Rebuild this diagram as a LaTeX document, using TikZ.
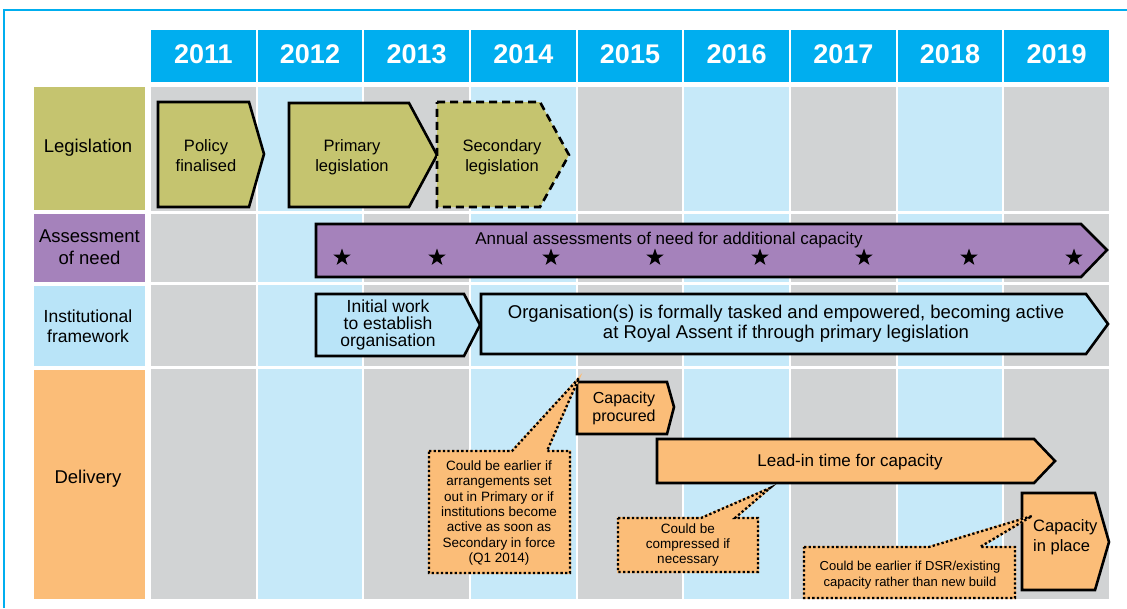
\documentclass[tikz,border=0pt]{standalone}
\usepackage{fontspec}
\setmainfont{Liberation Sans}
\usetikzlibrary{shapes.geometric}
\definecolor{hdr}{HTML}{00AEEF}
\definecolor{cgray}{HTML}{D1D3D4}
\definecolor{cblue}{HTML}{C6E9F9}
\definecolor{olive}{HTML}{C5C46F}
\definecolor{purp}{HTML}{A582BB}
\definecolor{inst}{HTML}{B9E4F8}
\definecolor{orng}{HTML}{FBBD78}
\tikzset{
  yeartxt/.style={text=white, font=\fontsize{27}{28}\selectfont\bfseries, inner sep=0},
  lbl/.style={align=center, inner sep=0, font=\fontsize{18.5}{22}\selectfont},
  boxtxt/.style={align=center, inner sep=0, font=\fontsize{16.5}{20}\selectfont},
  calltxt/.style={align=center, inner sep=0, font=\fontsize{13.5}{15.3}\selectfont},
  arrbox/.style={draw=black, line width=2.6, line join=miter},
  callout/.style={fill=orng, preaction={draw=orng, line width=2}, draw=black, line width=2.3, dash pattern=on 2.3 off 2.3},
  starmark/.style={star, star points=5, star point ratio=2.5, fill=black, minimum size=18pt, inner sep=0}
}
\begin{document}
\begin{tikzpicture}[x=1pt,y=-1pt]
\useasboundingbox (0,0) rectangle (1127,608);
\fill[white] (0,0) rectangle (1127,608);
\draw[hdr, line width=1.5] (4,608) -- (4,10) -- (1127,10);
% header
\foreach \i in {0,...,8} {
  \pgfmathsetmacro{\xa}{150+\i*106.667}
  \pgfmathsetmacro{\xb}{150+(\i+1)*106.667}
  \pgfmathtruncatemacro{\yr}{2011+\i}
  \fill[hdr] (\xa+1,30) rectangle (\xb-1,82);
  \node[yeartxt] (y\yr) at ({(\xa+\xb)/2},54) {\yr};
}
% grid cells
\foreach \i in {0,2,4,6,8} {
  \foreach \ya/\yb in {87/211,214/282,285/366,369/599} {
    \fill[cgray] ({150+\i*106.667+1},\ya) rectangle ({150+(\i+1)*106.667-1},\yb);
  }
}
\foreach \i in {1,3,5,7} {
  \foreach \ya/\yb in {87/211,214/282,285/366,369/599} {
    \fill[cblue] ({150+\i*106.667+1},\ya) rectangle ({150+(\i+1)*106.667-1},\yb);
  }
}
% row labels
\fill[olive] (34,87) rectangle (145,210);
\fill[purp] (34,214) rectangle (145,282);
\fill[inst] (34,286) rectangle (145,366);
\fill[orng] (34,370) rectangle (145,599);
\node[lbl] (lleg) at (88,148) {Legislation};
\node[lbl] (lass) at (89.5,247) {Assessment\\of need};
\node[lbl, font=\fontsize{17.5}{20}\selectfont] (linst) at (88,326) {Institutional\\framework};
\node[lbl] (ldel) at (88,479) {Delivery};
% legislation
\draw[arrbox, fill=olive] (158,102) -- (249,102) -- (264,154) -- (249,207) -- (158,207) -- cycle;
\node[boxtxt] (policy) at (206,156) {Policy\\finalised};
\draw[arrbox, fill=olive] (289,103) -- (409,103) -- (437,155) -- (409,207) -- (289,207) -- cycle;
\node[boxtxt] (primary) at (352,157) {Primary\\legislation};
\draw[arrbox, fill=olive, dashed, dash pattern=on 8 off 5] (437,102) -- (540,102) -- (569,155) -- (540,207) -- (437,207) -- cycle;
\node[boxtxt] (secondary) at (502,157) {Secondary\\legislation};
% assessment
\draw[arrbox, fill=purp] (316,224) -- (1081,224) -- (1107,250) -- (1081,277) -- (316,277) -- cycle;
\node[boxtxt, font=\fontsize{17}{20}\selectfont] (annual) at (669,240) {Annual assessments of need for additional capacity};
\foreach \sx [count=\k] in {342,437,551,655,760,864,969,1074} {
  \node[starmark] (st\k) at (\sx,257.5) {};
}
% institutional
\draw[arrbox, fill=inst] (316,294) -- (464,294) -- (480,325) -- (464,356) -- (316,356) -- cycle;
\node[boxtxt, font=\fontsize{17.5}{17}\selectfont] (initial) at (388,325) {Initial work\\to establish\\organisation};
\draw[arrbox, fill=inst] (481,294) -- (1086,294) -- (1108,324) -- (1086,354) -- (481,354) -- cycle;
\node[boxtxt, font=\fontsize{18.5}{20}\selectfont] (orgs) at (786,324) {Organisation(s) is formally tasked and empowered, becoming active\\at Royal Assent if through primary legislation};
% delivery
\draw[arrbox, fill=orng] (577,382) -- (667,382) -- (674,407) -- (667,434) -- (577,434) -- cycle;
\node[boxtxt, font=\fontsize{16}{18}\selectfont] (procured) at (624,408) {Capacity\\procured};
\draw[arrbox, fill=orng] (657,439) -- (1034,439) -- (1055,461) -- (1034,483) -- (657,483) -- cycle;
\node[boxtxt, font=\fontsize{17}{20}\selectfont] (leadin) at (850,462) {Lead-in time for capacity};
\draw[arrbox, fill=orng] (1022,493) -- (1095,493) -- (1109,542) -- (1095,590) -- (1022,590) -- cycle;
\node[boxtxt, font=\fontsize{16.5}{20}\selectfont, align=left, anchor=west] (inplace) at (1033,537) {Capacity\\in place};
% callouts
\draw[callout] (429,451) -- (512,451) -- (579,378) -- (547,451) -- (570,451) -- (570,573) -- (429,573) -- cycle;
\node[calltxt] (callA) at (499,513) {Could be earlier if\\arrangements set\\out in Primary or if\\institutions become\\active as soon as\\Secondary in force\\(Q1 2014)};
\draw[callout] (618,518) -- (701,518) -- (770,488) -- (735,518) -- (758,518) -- (758,572) -- (618,572) -- cycle;
\node[calltxt] (callB) at (688,545) {Could be\\compressed if\\necessary};
\draw[callout] (804,547) -- (929,547) -- (1032,516) -- (980,547) -- (1015,547) -- (1015,598) -- (804,598) -- cycle;
\node[calltxt, font=\fontsize{13}{16}\selectfont] (callC) at (910,575) {Could be earlier if DSR/existing\\capacity rather than new build};
\end{tikzpicture}
\end{document}
